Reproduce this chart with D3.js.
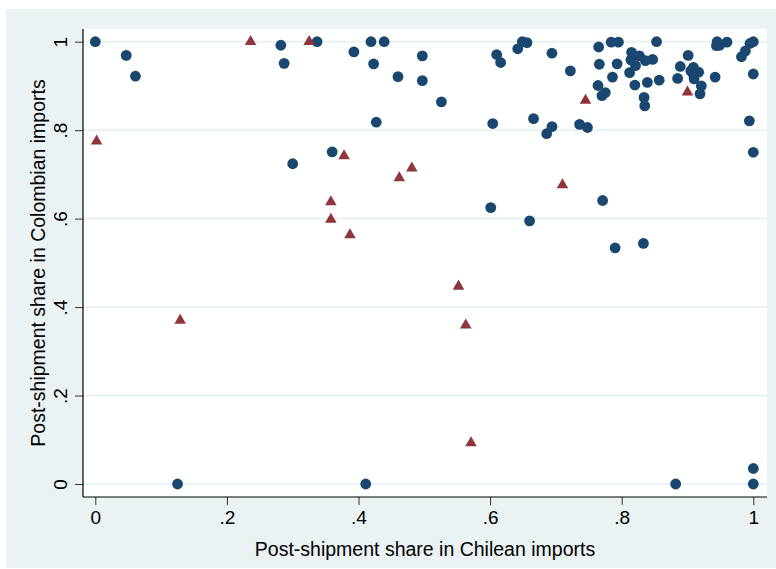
<!DOCTYPE html>
<html>
<head>
<meta charset="utf-8">
<script src="https://cdn.jsdelivr.net/npm/d3@7"></script>
<style>
  html, body { margin: 0; padding: 0; background: #fff; }
  text { font-family: "Liberation Sans", Arial, sans-serif; fill: #000; }
</style>
</head>
<body>
<div id="my_dataviz"></div>
<script>
// circles: [Chilean share, Colombian share]
var circlePts = [
  [0, 1.0], [0.047, 0.969], [0.061, 0.922], [0.125, 0], [0.282, 0.992],
  [0.287, 0.951], [0.300, 0.724], [0.337, 1.0], [0.360, 0.751], [0.393, 0.977],
  [0.411, 0], [0.419, 1.0], [0.423, 0.950], [0.427, 0.818], [0.439, 1.0],
  [0.460, 0.921], [0.497, 0.968], [0.497, 0.912], [0.526, 0.864], [0.601, 0.625],
  [0.604, 0.815], [0.610, 0.971], [0.616, 0.953], [0.642, 0.984], [0.649, 1.0],
  [0.656, 0.998], [0.660, 0.595], [0.666, 0.826], [0.686, 0.792], [0.694, 0.808],
  [0.694, 0.974], [0.722, 0.934], [0.736, 0.813], [0.748, 0.806], [0.764, 0.901],
  [0.765, 0.988], [0.766, 0.949], [0.770, 0.878], [0.771, 0.641], [0.775, 0.885],
  [0.784, 0.999], [0.786, 0.920], [0.790, 0.534], [0.793, 0.950], [0.795, 0.999],
  [0.812, 0.930], [0.814, 0.959], [0.815, 0.976], [0.820, 0.902], [0.821, 0.946],
  [0.827, 0.968], [0.833, 0.544], [0.834, 0.874], [0.835, 0.855], [0.836, 0.957],
  [0.839, 0.908], [0.847, 0.960], [0.853, 1.0], [0.857, 0.913], [0.882, 0],
  [0.885, 0.917], [0.889, 0.944], [0.901, 0.969], [0.905, 0.934], [0.909, 0.942],
  [0.908, 0.929], [0.910, 0.916], [0.917, 0.931], [0.919, 0.882], [0.921, 0.900],
  [0.942, 0.920], [0.944, 0.991], [0.945, 1.0], [0.949, 0.992], [0.960, 0.999],
  [0.982, 0.966], [0.988, 0.979], [0.994, 0.821], [0.995, 0.996], [1.0, 1.0],
  [1.0, 0.927], [1.0, 0.750], [1.0, 0.035], [1.0, 0]
];

// triangles
var trianglePts = [
  [0.002, 0.775], [0.129, 0.370], [0.236, 1.0], [0.325, 1.0], [0.358, 0.638],
  [0.358, 0.598], [0.378, 0.742], [0.387, 0.563], [0.462, 0.692], [0.481, 0.714],
  [0.552, 0.447], [0.563, 0.359], [0.571, 0.093], [0.710, 0.676], [0.745, 0.867],
  [0.900, 0.886]
];

var xTicks = [0, 0.2, 0.4, 0.6, 0.8, 1];
var yTicks = [0, 0.2, 0.4, 0.6, 0.8, 1];
var tickLabel = function(d) { return d == 0 ? "0" : d == 1 ? "1" : ("" + d).replace("0.", "."); };

var W = 776, H = 569;
var plot = { left: 83, right: 767, top: 29, bottom: 497 };

var svg = d3.select("#my_dataviz")
  .append("svg")
    .attr("width", W)
    .attr("height", H);

// graph region and plot region
svg.append("rect")
  .attr("x", 6).attr("y", 9)
  .attr("width", W - 6).attr("height", H - 10)
  .attr("fill", "#EAF2F3");
svg.append("rect")
  .attr("x", plot.left).attr("y", plot.top)
  .attr("width", plot.right - plot.left).attr("height", plot.bottom - plot.top)
  .attr("fill", "#fff");

var x = d3.scaleLinear().domain([0, 1]).range([95.3, 753.3]);
var y = d3.scaleLinear().domain([0, 1]).range([484, 41.7]);

// gridlines
svg.append("g")
  .selectAll("line")
  .data(yTicks)
  .enter().append("line")
    .attr("x1", plot.left).attr("x2", plot.right)
    .attr("y1", function(d) { return y(d); })
    .attr("y2", function(d) { return y(d); })
    .attr("stroke", "#EAF2F3")
    .attr("stroke-width", 2);

// x axis
var xAxis = svg.append("g")
  .attr("transform", "translate(0," + plot.bottom + ")")
  .call(d3.axisBottom(x).tickValues(xTicks).tickFormat(tickLabel).tickSize(8).tickPadding(6).tickSizeOuter(0));
xAxis.select(".domain").remove();
xAxis.selectAll("text").attr("font-size", "19px").attr("font-family", "Liberation Sans, Arial, sans-serif").attr("fill", "#000");
xAxis.selectAll("line").attr("stroke", "#333");

// y axis
var yAxis = svg.append("g")
  .attr("transform", "translate(" + plot.left + ",0)")
  .call(d3.axisLeft(y).tickValues(yTicks).tickFormat(tickLabel).tickSize(8).tickSizeOuter(0));
yAxis.select(".domain").remove();
yAxis.selectAll("line").attr("stroke", "#333");
yAxis.selectAll("text")
  .attr("font-size", "19px")
  .attr("font-family", "Liberation Sans, Arial, sans-serif")
  .attr("fill", "#000")
  .attr("x", null).attr("dy", null)
  .attr("text-anchor", "middle")
  .attr("transform", "translate(-16,0) rotate(-90)");

// axis lines
svg.append("line")
  .attr("x1", plot.left).attr("x2", plot.left)
  .attr("y1", plot.top).attr("y2", plot.bottom)
  .attr("stroke", "#000").attr("stroke-width", 1.2);
svg.append("line")
  .attr("x1", plot.left).attr("x2", plot.right)
  .attr("y1", plot.bottom).attr("y2", plot.bottom)
  .attr("stroke", "#000").attr("stroke-width", 1.2);

// titles
svg.append("text")
  .attr("x", (plot.left + plot.right) / 2 - 0)
  .attr("y", 556)
  .attr("text-anchor", "middle")
  .attr("font-size", "19.5px")
  .text("Post-shipment share in Chilean imports");

svg.append("text")
  .attr("transform", "translate(45," + ((plot.top + plot.bottom) / 2) + ") rotate(-90)")
  .attr("text-anchor", "middle")
  .attr("font-size", "19.5px")
  .text("Post-shipment share in Colombian imports");

// markers
svg.append("g")
  .selectAll("circle")
  .data(circlePts)
  .enter().append("circle")
    .attr("cx", function(d) { return x(d[0]); })
    .attr("cy", function(d) { return y(d[1]); })
    .attr("r", 5.4)
    .attr("fill", "#1A476F");

svg.append("g")
  .selectAll("path")
  .data(trianglePts)
  .enter().append("path")
    .attr("d", d3.symbol().type(d3.symbolTriangle).size(58))
    .attr("transform", function(d) { return "translate(" + x(d[0]) + "," + y(d[1]) + ")"; })
    .attr("fill", "#90353B");
</script>
</body>
</html>
